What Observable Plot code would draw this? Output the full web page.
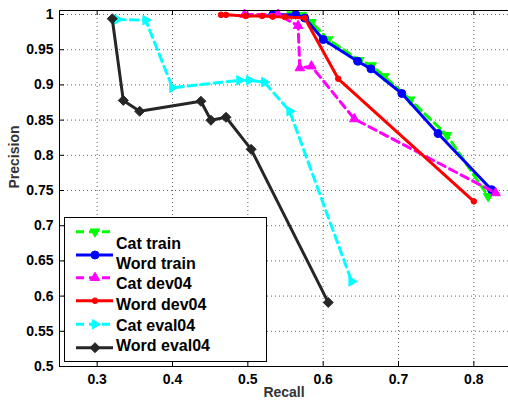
<!DOCTYPE html>
<html><head><meta charset="utf-8">
<script src="https://cdn.jsdelivr.net/npm/d3@7"></script>
<script src="https://cdn.jsdelivr.net/npm/@observablehq/plot@0.6"></script>
<style>
html,body{margin:0;padding:0;background:#fff;overflow:hidden;}
#wrap{position:relative;width:508px;height:402px;}
#legend{position:absolute;left:64px;top:217px;}
</style></head><body><div id="wrap"></div>
<script>
// ---- data ----
const seriesNames = ["Cat train", "Word train", "Cat dev04", "Word dev04", "Cat eval04", "Word eval04"];
const catTrainRecall = [0.558, 0.572, 0.5844, 0.6067, 0.648, 0.6645, 0.6813, 0.7155, 0.7644, 0.819];
const catTrainPrecision = [1.0, 0.999, 0.989, 0.9645, 0.935, 0.9275, 0.912, 0.879, 0.8285, 0.7417];
const wordTrainRecall = [0.533, 0.5636, 0.5755, 0.6, 0.6457, 0.6635, 0.7044, 0.7525, 0.8235];
const wordTrainPrecision = [0.9995, 0.9995, 0.995, 0.9645, 0.9337, 0.9228, 0.8878, 0.8309, 0.7512];
const catDevRecall = [0.4956, 0.54, 0.5667, 0.569, 0.5844, 0.6413, 0.8289];
const catDevPrecision = [1.0, 1.0, 0.984, 0.924, 0.9266, 0.8517, 0.7465];
const wordDevRecall = [0.4644, 0.471, 0.497, 0.519, 0.533, 0.549, 0.5755, 0.62, 0.8];
const wordDevPrecision = [0.9995, 0.9995, 0.998, 0.998, 0.997, 0.9966, 0.995, 0.9087, 0.7346];
const catEvalRecall = [0.3267, 0.3644, 0.4, 0.4889, 0.502, 0.522, 0.5555, 0.6378];
const catEvalPrecision = [0.993, 0.992, 0.896, 0.9066, 0.9066, 0.904, 0.8626, 0.6209];
const wordEvalRecall = [0.320, 0.3347, 0.3564, 0.4377, 0.451, 0.471, 0.5044, 0.6067];
const wordEvalPrecision = [0.994, 0.878, 0.8626, 0.8768, 0.8498, 0.854, 0.8085, 0.591];
const xTicks = [0.3, 0.4, 0.5, 0.6, 0.7, 0.8];
const yTicks = [0.5, 0.55, 0.6, 0.65, 0.7, 0.75, 0.8, 0.85, 0.9, 0.95, 1];
const xLabel = "Recall";
const yLabel = "Precision";

// ---- symbols ----
function triangle(angleDeg) {
  return {draw(ctx, size) {
    const R = Math.sqrt(size / Math.PI);
    for (let k = 0; k < 3; k++) {
      const a = (angleDeg + 120 * k) * Math.PI / 180;
      const px = R * Math.cos(a), py = R * Math.sin(a);
      if (k === 0) ctx.moveTo(px, py); else ctx.lineTo(px, py);
    }
    ctx.closePath();
  }};
}
const diamond = {draw(ctx, size) {
  const R = Math.sqrt(size / Math.PI);
  ctx.moveTo(0, -R); ctx.lineTo(R, 0); ctx.lineTo(0, R); ctx.lineTo(-R, 0); ctx.closePath();
}};
const circle = {draw(ctx, size) {
  const R = Math.sqrt(size / Math.PI);
  ctx.moveTo(R, 0); ctx.arc(0, 0, R, 0, 2 * Math.PI);
}};

const series = [
  {name: seriesNames[0], recall: catTrainRecall, precision: catTrainPrecision, color: "#00ff00", dash: "8,5", symbol: triangle(90), r: 5.5},
  {name: seriesNames[1], recall: wordTrainRecall, precision: wordTrainPrecision, color: "#0000ff", dash: null, symbol: circle, r: 4},
  {name: seriesNames[2], recall: catDevRecall, precision: catDevPrecision, color: "#ff00ff", dash: "8,5", symbol: triangle(-90), r: 5.5},
  {name: seriesNames[3], recall: wordDevRecall, precision: wordDevPrecision, color: "#ff0000", dash: null, symbol: circle, r: 2.8},
  {name: seriesNames[4], recall: catEvalRecall, precision: catEvalPrecision, color: "#00ffff", dash: "8,5", symbol: triangle(0), r: 5.5},
  {name: seriesNames[5], recall: wordEvalRecall, precision: wordEvalPrecision, color: "#262626", dash: null, symbol: diamond, r: 5}
];

const xMin = 0.25, xMax = 0.846, yMin = 0.5, yMax = 1.0057;
const font = '"Liberation Sans", Arial, Helvetica, sans-serif';

const seriesMarks = series.flatMap(s => {
  const rows = s.recall.map((x, i) => ({recall: x, precision: s.precision[i]}));
  return [
    Plot.line(rows, {x: "recall", y: "precision", stroke: s.color, strokeWidth: 3, strokeDasharray: s.dash ?? undefined, strokeLinejoin: "round"}),
    Plot.dot(rows, {x: "recall", y: "precision", symbol: s.symbol, r: s.r, fill: s.color, stroke: s.color, strokeWidth: 1})
  ];
});

const fmt = d => String(+d.toFixed(2));

const chart = Plot.plot({
  width: 508, height: 402,
  marginLeft: 59, marginRight: 0, marginTop: 10, marginBottom: 36,
  x: {domain: [xMin, xMax]},
  y: {domain: [yMin, yMax]},
  style: {fontFamily: font, fontSize: "14px", fontWeight: "bold", color: "#000", background: "#fff", overflow: "visible"},
  marks: [
    Plot.gridX(xTicks, {stroke: "#666", strokeOpacity: 1, strokeDasharray: "1,3"}),
    Plot.gridY(yTicks, {stroke: "#666", strokeOpacity: 1, strokeDasharray: "1,3"}),
    ...seriesMarks,
    Plot.ruleY([yMin, yMax], {stroke: "#000", strokeWidth: 1}),
    Plot.ruleX([xMin], {stroke: "#000", strokeWidth: 1}),
    Plot.ruleX(xTicks, {y1: yMin, y2: yMin + 5 / 703, stroke: "#000"}),
    Plot.ruleX(xTicks, {y1: yMax, y2: yMax - 5 / 703, stroke: "#000"}),
    Plot.ruleY(yTicks, {x1: xMin, x2: xMin + 5 / 753, stroke: "#000"}),
    Plot.axisX(xTicks, {tickSize: 0, tickPadding: 8, label: null, tickFormat: fmt}),
    Plot.axisY(yTicks, {tickSize: 0, tickPadding: 6, label: null, tickFormat: fmt}),
    Plot.text([xLabel], {frameAnchor: "bottom", dy: 30, fill: "#333", fontSize: 14, fontWeight: "bold"}),
    Plot.text([yLabel], {frameAnchor: "left", dx: -45, rotate: -90, fill: "#333", fontSize: 14, fontWeight: "bold"})
  ]
});
const wrap = document.getElementById("wrap");
wrap.appendChild(chart);

// ---- legend ----
const lw = 203, lh = 145;
const sampleY = [14.7, 38, 60.7, 83.7, 107.3, 130.7];
const textY = [26.3, 46.3, 66.3, 87, 108, 128.7];
const leg = d3.select(wrap).append("svg").attr("id", "legend")
  .attr("width", lw).attr("height", lh)
  .style("font-family", font).style("font-weight", "bold").style("font-size", "16px");
leg.append("rect").attr("x", 0.5).attr("y", 0.5).attr("width", lw - 1).attr("height", lh - 1)
  .attr("fill", "#fff").attr("stroke", "#000");
series.forEach((s, i) => {
  leg.append("line").attr("x1", 12).attr("x2", 49).attr("y1", sampleY[i]).attr("y2", sampleY[i])
    .attr("stroke", s.color).attr("stroke-width", 3).attr("stroke-dasharray", s.dash);
  leg.append("path").attr("transform", `translate(31,${sampleY[i]})`)
    .attr("d", d3.symbol(s.symbol, Math.PI * s.r * s.r)())
    .attr("fill", s.color).attr("stroke", s.color);
  leg.append("text").attr("x", 52).attr("y", textY[i]).attr("dy", "0.35em").attr("fill", "#000").text(s.name);
});
</script></body></html>
